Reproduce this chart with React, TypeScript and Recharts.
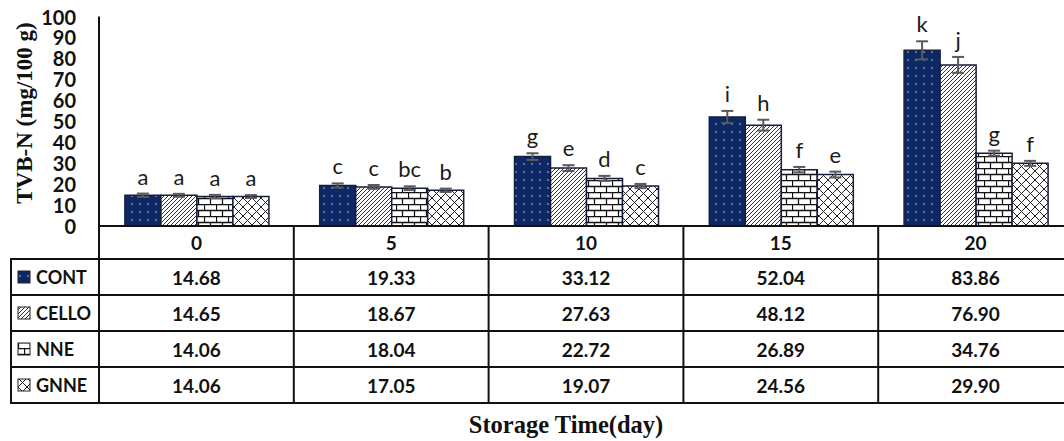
import { BarChart, Bar, XAxis, YAxis, ErrorBar, LabelList } from 'recharts'

// storage days (x categories)
const days = ['0', '5', '10', '15', '20']

// TVB-N means per treatment
const cont = [14.68, 19.33, 33.12, 52.04, 83.86]
const cello = [14.65, 18.67, 27.63, 48.12, 76.9]
const nne = [14.06, 18.04, 22.72, 26.89, 34.76]
const gnne = [14.06, 17.05, 19.07, 24.56, 29.9]

// error bar half-lengths
const contErr = [0.8, 1.0, 1.6, 2.9, 4.3]
const celloErr = [0.7, 0.9, 1.4, 2.6, 3.8]
const nneErr = [0.8, 0.9, 1.2, 1.3, 1.2]
const gnneErr = [0.7, 0.8, 1.0, 1.4, 1.2]

// significance letters
const contLetters = ['a', 'c', 'g', 'i', 'k']
const celloLetters = ['a', 'c', 'e', 'h', 'j']
const nneLetters = ['a', 'bc', 'd', 'f', 'g']
const gnneLetters = ['a', 'b', 'c', 'e', 'f']

const yTicks = [0, 10, 20, 30, 40, 50, 60, 70, 80, 90, 100]

const series = [
  { key: 'CONT', values: cont, errors: contErr, letters: contLetters, fill: 'url(#pDots)' },
  { key: 'CELLO', values: cello, errors: celloErr, letters: celloLetters, fill: 'url(#pDiag)' },
  { key: 'NNE', values: nne, errors: nneErr, letters: nneLetters, fill: 'url(#pBrick)' },
  { key: 'GNNE', values: gnne, errors: gnneErr, letters: gnneLetters, fill: 'url(#pCross)' },
]

const data = days.map((day, i) => {
  const row: Record<string, string | number> = { day }
  for (const s of series) {
    row[s.key] = s.values[i]
    row[s.key + 'Err'] = s.errors[i]
  }
  return row
})

// layout
const W = 1080
const H = 441
const PLOT_LEFT = 99
const PLOT_RIGHT = 1073
const PLOT_TOP = 16.5
const AXIS_Y = 226
const TABLE_LEFT = 11
const HEADER_BOTTOM = 259
const ROW_H = 36
const TABLE_BOTTOM = HEADER_BOTTOM + ROW_H * series.length

const SANS = 'Lato, "Open Sans", sans-serif'
const SERIF = '"Liberation Serif", "DejaVu Serif", serif'
const LINE = '#111'

function Patterns() {
  return (
    <svg width={0} height={0} style={{ position: 'absolute' }}>
      <defs>
        <pattern id="pDots" width={8} height={8} patternUnits="userSpaceOnUse">
          <rect width={8} height={8} fill="#0d2865" />
          <rect x={3.3} y={3.3} width={1.4} height={1.4} fill="#b9c3d8" />
        </pattern>
        <pattern id="pDiag" width={4} height={4} patternUnits="userSpaceOnUse">
          <rect width={4} height={4} fill="#fff" />
          <path d="M-1,1 l2,-2 M0,4 l4,-4 M3,5 l2,-2" stroke="#333" strokeWidth={1} />
        </pattern>
        <pattern id="pBrick" width={12} height={12} patternUnits="userSpaceOnUse">
          <rect width={12} height={12} fill="#fff" />
          <path d="M0,0.5 H12 M0,6.5 H12 M0.5,0 V6.5 M6.5,6.5 V12" stroke="#111" strokeWidth={1.3} />
        </pattern>
        <pattern id="pCross" width={9} height={9} patternUnits="userSpaceOnUse">
          <rect width={9} height={9} fill="#fff" />
          <path d="M0,0 L9,9 M9,0 L0,9" stroke="#222" strokeWidth={1} />
        </pattern>
      </defs>
    </svg>
  )
}

// letter above each error bar cap
function letterContent(letters: string[], errors: number[], values: number[]) {
  return (p: any) => {
    const { x, y, width, height, index } = p
    const v = values[index]
    const pxPerUnit = v ? height / v : 0
    const capTop = y - errors[index] * pxPerUnit
    return (
      <text
        x={x + width / 2}
        y={capTop - 9}
        textAnchor="middle"
        fontFamily={SANS}
        fontSize={22}
        fill="#1a1a1a"
      >
        {letters[index]}
      </text>
    )
  }
}

// each x tick draws one column of the data table
function TableColumn(props: any) {
  const { x, payload, index } = props
  const colW = (PLOT_RIGHT - PLOT_LEFT) / days.length
  const left = x - colW / 2
  return (
    <g>
      <text
        x={x}
        y={(AXIS_Y + HEADER_BOTTOM) / 2}
        textAnchor="middle"
        dominantBaseline="central"
        fontFamily={SANS}
        fontWeight={700}
        fontSize={19}
        fill="#111"
      >
        {payload.value}
      </text>
      {series.map((s, r) => (
        <text
          key={s.key}
          x={x}
          y={HEADER_BOTTOM + ROW_H * r + ROW_H / 2}
          textAnchor="middle"
          dominantBaseline="central"
          fontFamily={SANS}
          fontWeight={700}
          fontSize={19}
          fill="#111"
        >
          {s.values[index].toFixed(2)}
        </text>
      ))}
      <line x1={left} x2={left} y1={AXIS_Y} y2={TABLE_BOTTOM} stroke={LINE} strokeWidth={2} />
      {index === days.length - 1 && (
        <line x1={left + colW} x2={left + colW} y1={AXIS_Y} y2={TABLE_BOTTOM} stroke={LINE} strokeWidth={2} />
      )}
      {index === 0 && (
        <g>
          {series.map((s, r) => {
            const yTop = HEADER_BOTTOM + ROW_H * r
            return (
              <g key={s.key}>
                <line x1={TABLE_LEFT} x2={W} y1={yTop} y2={yTop} stroke={LINE} strokeWidth={2} />
                <rect x={18} y={yTop + ROW_H / 2 - 6} width={12} height={12} fill={s.fill} stroke="#222" strokeWidth={1} />
                <text
                  x={36}
                  y={yTop + ROW_H / 2}
                  dominantBaseline="central"
                  fontFamily={SANS}
                  fontWeight={700}
                  fontSize={18}
                  fill="#111"
                >
                  {s.key}
                </text>
              </g>
            )
          })}
          <line x1={TABLE_LEFT} x2={W} y1={TABLE_BOTTOM} y2={TABLE_BOTTOM} stroke={LINE} strokeWidth={2} />
          <line x1={TABLE_LEFT} x2={TABLE_LEFT} y1={HEADER_BOTTOM - 1} y2={TABLE_BOTTOM + 1} stroke={LINE} strokeWidth={2} />
          <text
            x={566}
            y={433}
            textAnchor="middle"
            fontFamily={SERIF}
            fontWeight={700}
            fontSize={24.5}
            fill="#111"
          >
            Storage Time(day)
          </text>
        </g>
      )}
    </g>
  )
}

function YTick(props: any) {
  const { y, payload } = props
  return (
    <text
      x={76}
      y={y}
      textAnchor="end"
      dominantBaseline="central"
      fontFamily={SANS}
      fontWeight={700}
      fontSize={20}
      fill="#111"
    >
      {payload.value}
    </text>
  )
}

function YTitle() {
  return (
    <text
      transform="translate(32, 113) rotate(-90)"
      textAnchor="middle"
      fontFamily={SERIF}
      fontWeight={700}
      fontSize={23}
      fill="#111"
    >
      TVB-N (mg/100 g)
    </text>
  )
}

export default function App() {
  return (
    <div
      style={{
        position: 'absolute',
        left: 0,
        top: 0,
        width: 1064,
        height: 441,
        overflow: 'hidden',
        background: '#fff',
      }}
    >
      <Patterns />
      <BarChart
        width={W}
        height={H}
        data={data}
        margin={{ top: PLOT_TOP, right: W - PLOT_RIGHT, bottom: 0, left: 0 }}
        barCategoryGap="13.3%"
        barGap={0}
      >
        <XAxis
          dataKey="day"
          height={H - AXIS_Y}
          axisLine={{ stroke: LINE, strokeWidth: 2 }}
          tickLine={false}
          interval={0}
          tick={<TableColumn />}
        />
        <YAxis
          width={PLOT_LEFT}
          domain={[0, 100]}
          ticks={yTicks}
          interval={0}
          axisLine={{ stroke: LINE, strokeWidth: 2 }}
          tickLine={false}
          tick={<YTick />}
          label={<YTitle />}
        />
        {series.map((s) => (
          <Bar
            key={s.key}
            dataKey={s.key}
            fill={s.fill}
            stroke="#141d3c"
            strokeWidth={1.5}
            isAnimationActive={false}
          >
            <ErrorBar dataKey={s.key + 'Err'} width={6} strokeWidth={2} stroke="#5a5a5a" direction="y" />
            <LabelList content={letterContent(s.letters, s.errors, s.values)} />
          </Bar>
        ))}
      </BarChart>
    </div>
  )
}
